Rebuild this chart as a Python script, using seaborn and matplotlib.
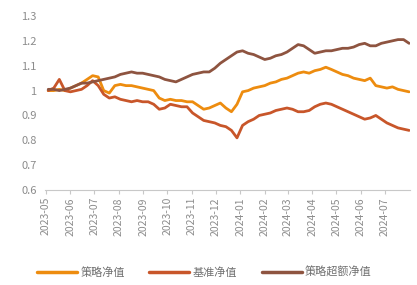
import pandas as pd
import numpy as np
import matplotlib
matplotlib.use("Agg")
import matplotlib.pyplot as plt
import matplotlib.dates as mdates
from matplotlib.ticker import FuncFormatter
import seaborn as sns

dates = pd.date_range("2023-05-04", periods=66, freq="7D")

strategy = [1.00, 1.00, 1.005, 1.00, 1.01, 1.02, 1.03, 1.045, 1.06, 1.055,
            1.00, 0.99, 1.02, 1.025, 1.02, 1.02, 1.015, 1.01, 1.005, 1.00,
            0.97, 0.96, 0.965, 0.96, 0.96, 0.955, 0.955, 0.94, 0.925, 0.93,
            0.94, 0.95, 0.93, 0.915, 0.945, 0.995, 1.00, 1.01, 1.015, 1.02,
            1.03, 1.035, 1.045, 1.05, 1.06, 1.07, 1.075, 1.07, 1.08, 1.085,
            1.094, 1.085, 1.075, 1.065, 1.06, 1.05, 1.045, 1.04, 1.05, 1.02,
            1.015, 1.01, 1.015, 1.005, 1.00, 0.995]

benchmark = [1.00, 1.01, 1.045, 1.00, 0.995, 1.00, 1.005, 1.02, 1.04, 1.02,
             0.985, 0.97, 0.975, 0.965, 0.96, 0.955, 0.96, 0.955, 0.955, 0.945,
             0.925, 0.93, 0.945, 0.94, 0.935, 0.935, 0.91, 0.895, 0.88, 0.875,
             0.87, 0.86, 0.855, 0.84, 0.81, 0.86, 0.875, 0.885, 0.90, 0.905,
             0.91, 0.92, 0.925, 0.93, 0.925, 0.915, 0.915, 0.92, 0.935, 0.945,
             0.95, 0.945, 0.935, 0.925, 0.915, 0.905, 0.895, 0.885, 0.89, 0.90,
             0.885, 0.87, 0.86, 0.85, 0.845, 0.84]

excess = [1.005, 1.005, 1.00, 1.005, 1.01, 1.02, 1.03, 1.03, 1.035, 1.04,
          1.045, 1.05, 1.055, 1.065, 1.07, 1.075, 1.07, 1.07, 1.065, 1.06,
          1.055, 1.045, 1.04, 1.035, 1.045, 1.055, 1.065, 1.07, 1.075, 1.075,
          1.09, 1.11, 1.125, 1.14, 1.155, 1.16, 1.15, 1.145, 1.135, 1.125,
          1.13, 1.14, 1.145, 1.155, 1.17, 1.185, 1.18, 1.165, 1.15, 1.155,
          1.16, 1.16, 1.165, 1.17, 1.17, 1.175, 1.185, 1.19, 1.18, 1.18,
          1.19, 1.195, 1.20, 1.205, 1.205, 1.19]

series_names = ["策略净值", "基准净值", "策略超额净值"]
colors = ["#ED8C0F", "#C8562A", "#8E5440"]

df = pd.DataFrame({"date": list(dates) * 3,
                   "value": strategy + benchmark + excess,
                   "series": [series_names[0]] * 66 + [series_names[1]] * 66 + [series_names[2]] * 66})

sns.set_theme(style="white")
plt.rcParams['font.family'] = ['Noto Sans CJK SC', 'DejaVu Sans']

fig = plt.figure(figsize=(4.17, 2.85), dpi=100)
ax = fig.add_axes([0.108, 0.333, 0.875, 0.611])

sns.lineplot(data=df, x="date", y="value", hue="series", palette=colors,
             linewidth=2.0, ax=ax, legend=False)

ax.set_ylim(0.6, 1.3)
ax.set_yticks(np.arange(0.6, 1.31, 0.1))
ax.yaxis.set_major_formatter(FuncFormatter(lambda v, p: f"{v:g}" if abs(v - 1) > 1e-9 else "1"))
ax.set_xlim(pd.Timestamp("2023-04-30"), pd.Timestamp("2024-08-02"))
tick_dates = pd.date_range("2023-05-01", "2024-07-01", freq="MS")
ax.set_xticks(tick_dates)
ax.xaxis.set_major_formatter(mdates.DateFormatter("%Y-%m"))
ax.tick_params(axis="x", rotation=90, labelsize=7.5,
               length=3, width=0.8, direction="out", bottom=True, pad=2)
ax.tick_params(axis="y", labelsize=8, length=0, pad=6)
for lbl in ax.get_xticklabels() + ax.get_yticklabels():
    lbl.set_color("#8c8c8c")
for s in ["top", "right", "left"]:
    ax.spines[s].set_visible(False)
ax.spines["bottom"].set_color("#c8c8c8")
ax.spines["bottom"].set_linewidth(0.8)
ax.xaxis.set_tick_params(color="#c8c8c8")
ax.set_xlabel("")
ax.set_ylabel("")

handles = [plt.Line2D([0], [0], color=c, linewidth=2.5) for c in colors]
fig.legend(handles, series_names, loc="center", bbox_to_anchor=(0.49, 0.045),
           ncol=3, frameon=False, fontsize=8, handlelength=3.6,
           columnspacing=2.2, handletextpad=0.3, labelcolor="#707070")

fig.savefig("out.png", dpi=100)
